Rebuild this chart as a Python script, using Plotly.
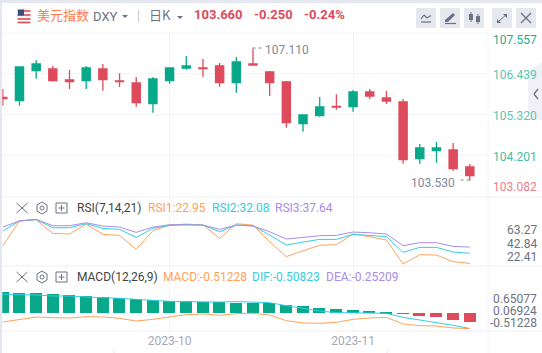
import plotly.graph_objects as go

W, H = 542, 353
idx = list(range(29))
opens = [105.78,105.694,106.507,106.553,106.255,106.236,106.553,106.228,106.174,105.612,106.236,106.58,106.58,106.635,106.182,106.689,106.472,106.201,105.07,105.287,105.542,105.531,105.93,105.767,105.658,104.121,104.338,104.357,103.896]
highs = [106.011,106.62,106.797,106.635,106.526,106.635,106.689,106.437,106.336,106.336,106.59,106.906,106.825,106.716,106.879,107.11,106.499,106.228,105.31,105.794,105.867,105.984,106.011,105.957,105.74,104.519,104.574,104.546,103.977]
lows = [105.558,105.558,106.29,106.209,106.011,106.011,105.965,106.065,105.531,105.368,106.155,106.534,106.344,106.073,105.911,106.643,105.821,104.961,104.853,105.26,105.45,105.395,105.74,105.604,103.985,103.985,104.012,103.795,103.53]
closes = [105.75,106.608,106.689,106.236,106.209,106.58,106.263,106.209,105.639,106.282,106.58,106.635,106.561,106.182,106.743,106.662,106.182,105.097,105.306,105.523,105.523,105.93,105.821,105.686,104.094,104.411,104.411,103.849,103.66]
rsi1 = [38.9,61.2,62.35,50.0,49.4,58.4,49.1,48.2,35.6,52.4,57.5,58.4,57.5,45.5,58.7,57.5,42.5,29.0,34.4,39.2,39.8,49.4,47.0,44.0,22.4,30.8,30.5,24.5,22.95]
rsi2 = [52.1,61.2,62.4,55.1,55.1,58.7,54.5,53.6,46.4,54.5,57.2,57.8,57.5,51.5,57.5,56.9,48.5,39.5,42.2,44.6,44.6,49.1,48.2,47.0,32.9,37.4,37.4,33.2,32.08]
rsi3 = [55.7,61.2,62.7,56.9,56.9,59.6,56.6,55.7,50.9,55.7,57.8,57.8,57.5,53.6,57.5,56.6,51.5,44.9,46.4,47.9,48.2,51.2,50.6,49.4,38.9,41.6,41.6,38.3,37.64]
hist = [1.29,1.25,1.25,1.19,1.13,1.07,1.00,0.94,0.88,0.82,0.76,0.74,0.70,0.68,0.66,0.66,0.64,0.51,0.45,0.33,0.27,0.21,0.14,0.04,-0.04,-0.16,-0.23,-0.41,-0.512]
dif = [0.605,0.605,0.584,0.551,0.551,0.518,0.508,0.475,0.442,0.399,0.377,0.366,0.355,0.355,0.366,0.355,0.334,0.236,0.149,0.062,0.008,0.008,0.008,-0.014,-0.145,-0.232,-0.297,-0.405,-0.508]
macd = [-0.297,-0.21,-0.134,-0.155,-0.166,-0.123,-0.134,-0.177,-0.264,-0.21,-0.123,-0.058,-0.036,-0.079,-0.025,-0.014,-0.069,-0.253,-0.329,-0.34,-0.308,-0.21,-0.166,-0.145,-0.362,-0.416,-0.427,-0.492,-0.512]
price_ticks = [107.557,106.439,105.32,104.201,103.082]
x_tick_pos = [10,21]
x_tick_text = ["2023-10","2023-11"]

GREEN, RED = "#08A88A", "#DD4B5C"
ORANGE, CYAN, PURPLE = "#FFA25B", "#35CDE0", "#A98CE6"
GRID = "#F3F4F8"
GRAY = "#6E7183"

def px(x): return x / W
def py(y): return 1 - y / H

fig = go.Figure()
fig.add_trace(go.Candlestick(x=idx, open=opens, high=highs, low=lows, close=closes,
    increasing=dict(line=dict(color=GREEN, width=1.3), fillcolor=GREEN),
    decreasing=dict(line=dict(color=RED, width=1.3), fillcolor=RED),
    whiskerwidth=0, xaxis="x", yaxis="y", showlegend=False))
for s, c in [(rsi1, ORANGE), (rsi2, CYAN), (rsi3, PURPLE)]:
    fig.add_trace(go.Scatter(x=idx, y=s, mode="lines", line=dict(color=c, width=1), xaxis="x2", yaxis="y2", showlegend=False))
fig.add_trace(go.Bar(x=idx, y=hist, marker=dict(color=[GREEN if v > 0 else RED for v in hist], line_width=0),
    width=0.72, xaxis="x3", yaxis="y3", showlegend=False))
fig.add_trace(go.Scatter(x=idx, y=dif, mode="lines", line=dict(color=CYAN, width=1), xaxis="x3", yaxis="y4", showlegend=False))
fig.add_trace(go.Scatter(x=idx, y=macd, mode="lines", line=dict(color=ORANGE, width=1), xaxis="x3", yaxis="y4", showlegend=False))

xr = [-0.03, 29.09]
dom = [px(2.3), px(488)]
common = dict(range=xr, domain=dom, showgrid=True, gridcolor=GRID, gridwidth=1, zeroline=False,
              tickvals=x_tick_pos, ticktext=["", ""], rangeslider=dict(visible=False), fixedrange=True, showline=False)
yc = dict(zeroline=False, showticklabels=False, ticks="", fixedrange=True, side="right")
fig.update_layout(
    width=W, height=H, margin=dict(l=0, r=0, t=0, b=0),
    paper_bgcolor="white", plot_bgcolor="rgba(0,0,0,0)",
    font=dict(family="Roboto, 'Noto Sans CJK SC', sans-serif", size=12, color=GRAY),
    showlegend=False, dragmode=False, bargap=0,
    xaxis=dict(**common, anchor="y"),
    xaxis2=dict(**common, anchor="y2"),
    xaxis3=dict(**{**common, "ticktext": x_tick_text, "tickfont": dict(size=12, color="#A6A8B5"), "ticks": ""}, anchor="y3", ticklabelstandoff=1),
    yaxis=dict(**yc, domain=[py(197), py(32)], range=[103.082, 107.557], tickvals=price_ticks, showgrid=True, gridcolor=GRID, anchor="x"),
    yaxis2=dict(**yc, domain=[py(266), py(197)], range=[20.6, 82.8], showgrid=False, anchor="x2"),
    yaxis3=dict(**yc, domain=[py(331), py(266)], range=[-1.089, 2.909], showgrid=False, anchor="x3"),
    yaxis4=dict(**yc, domain=[py(331), py(266)], range=[-0.59, 1.529], showgrid=False, overlaying="y3", anchor="x3"),
)

ann = []
def T(x, y, s, color=GRAY, size=12, anchor="left", bold=False, family=None):
    f = dict(size=size, color=color)
    if family: f["family"] = family
    if bold: s = f"<b>{s}</b>"
    ann.append(dict(x=px(x), y=py(y), xref="paper", yref="paper", text=s, showarrow=False,
                    xanchor=anchor, yanchor="middle", font=f, borderpad=0))

T(36, 15, "美元指数", "#FF7A4D", 13, family="'Noto Sans CJK SC'")
T(92, 16, "DXY", GRAY, 13)
T(148, 15, "日K", GRAY, 13, family="'Noto Sans CJK SC'")
T(193, 15, "103.660", RED, 13, bold=True)
T(253, 15, "-0.250", RED, 13, bold=True)
T(303, 15, "-0.24%", RED, 13, bold=True)
for y, s, c in [(40, "107.557", "#16AE92"), (75, "106.439", "#5CC6B2"), (116, "105.320", "#5CC6B2"), (157, "104.201", "#45BEA8"), (187, "103.082", "#E8808C")]:
    T(538, y, s, c, 12, "right")
T(264, 50, "107.110", "#85879A", 12)
T(456, 183, "103.530", "#85879A", 12, "right")
T(76, 208, "RSI(7,14,21)", "#444", 12)
T(147, 208, "RSI1:22.95", ORANGE, 12)
T(211, 208, "RSI2:32.08", CYAN, 12)
T(274, 208, "RSI3:37.64", PURPLE, 12)
for y, s in [(230, "63.27"), (244, "42.84"), (257, "22.41")]:
    T(538, y, s, GRAY, 12, "right")
T(76, 277, "MACD(12,26,9)", "#444", 12)
T(162, 277, "MACD:-0.51228", ORANGE, 12)
T(251, 277, "DIF:-0.50823", CYAN, 12)
T(325, 277, "DEA:-0.25209", PURPLE, 12)
for y, s in [(299, "0.65077"), (311, "0.06924"), (323, "-0.51228")]:
    T(538, y, s, GRAY, 12, "right")

shapes = []
def S(**k):
    k.setdefault("xref", "paper"); k.setdefault("yref", "paper"); k.setdefault("layer", "above")
    shapes.append(k)
def L(x0, y0, x1, y1, c=GRAY, w=1, dash=None):
    line = dict(color=c, width=w)
    if dash: line["dash"] = dash
    S(type="line", x0=px(x0), y0=py(y0), x1=px(x1), y1=py(y1), line=line)
def R(x0, y0, x1, y1, fill=None, c=None, w=1):
    S(type="rect", x0=px(x0), y0=py(y0), x1=px(x1), y1=py(y1), fillcolor=fill or "rgba(0,0,0,0)", line=dict(color=c or "rgba(0,0,0,0)", width=w))
def P(pts, fill=None, c=None, w=1):
    d = "M" + " L".join(f"{px(a):.5f},{py(b):.5f}" for a, b in pts) + " Z"
    S(type="path", path=d, fillcolor=fill or "rgba(0,0,0,0)", line=dict(color=c or "rgba(0,0,0,0)", width=w))

# page frame
R(0, 0, 542, 3, "#E4E7EF")
R(0, 0, 2, 353, "#E4E7EF")
# borders
L(2, 33, 488, 33, GRID); L(488, 33, 488, 353, GRID); L(2, 197, 542, 197, "#EEEFF4")
L(2, 266, 542, 266, "#EEEFF4"); L(2, 331, 542, 331, "#EEEFF4")
L(114, 349, 114, 353, "#E4E6EC"); L(387, 349, 387, 353, "#E4E6EC")
# side tab
P([(542, 62), (528, 72), (528, 120), (542, 120)], "#F0F0F5")
L(538, 89, 534, 94, GRAY, 1.3); L(534, 94, 538, 99, GRAY, 1.3)
# flag
S(type="circle", x0=px(16), y0=py(24), x1=px(32), y1=py(8), fillcolor="#F2F2F4", line=dict(width=0))
for y in (11, 15, 19, 22.5):
    L(17.5, y, 30.5, y, "#D8505C", 1.6)
R(18, 9.5, 24, 15.5, "#3E4A7C")
# carets
P([(122, 15), (128, 15), (125, 18)], GRAY)
P([(177, 16), (183, 16), (180, 19)], GRAY)
L(138.5, 10, 138.5, 22, "#C9CBD6", 1)
# toolbar
for x0 in (416, 440, 464, 492, 516):
    R(x0, 8, x0 + 20, 28, "#E6E8EF")
L(421, 22, 431, 22, GRAY, 1.2)
for a, b in [((421, 19), (424, 15)), ((424, 15), (427, 18)), ((427, 18), (431, 15.5))]:
    L(a[0], a[1], b[0], b[1], GRAY, 1.2)
P([(445, 20), (453, 13), (455, 15), (448, 22), (445, 22)], GRAY)
L(445, 23.5, 456, 23.5, GRAY, 1.2)
R(469, 14, 473, 20, GRAY); L(471, 12, 471, 22, GRAY, 1)
R(476, 16, 480, 22, GRAY); L(478, 14, 478, 24, GRAY, 1)
L(498, 22, 507, 14, GRAY, 1); P([(503, 14), (507, 14), (507, 18)], GRAY); P([(497, 19), (497, 23), (501, 23)], GRAY)
L(521, 13, 531, 23, GRAY, 1.2); L(531, 13, 521, 23, GRAY, 1.2)
# dotted leaders
L(252.7, 48, 262, 48, "#85879A", 1, "dot")
L(469.7, 180, 459, 180, "#85879A", 1, "dot")
# pane icons
for yc0 in (208, 277):
    L(16.5, yc0 - 5, 27.5, yc0 + 5, GRAY, 1); L(27.5, yc0 - 5, 16.5, yc0 + 5, GRAY, 1)
    P([(42, yc0 - 6), (47, yc0 - 3), (47, yc0 + 3), (42, yc0 + 6), (37, yc0 + 3), (37, yc0 - 3)], None, GRAY, 1)
    S(type="circle", x0=px(40), y0=py(yc0 + 2), x1=px(44), y1=py(yc0 - 2), line=dict(color=GRAY, width=1))
    R(56, yc0 - 5, 67, yc0 + 5, None, GRAY, 1)
    L(58.5, yc0, 64.5, yc0, GRAY, 1); L(61.5, yc0 - 3, 61.5, yc0 + 3, GRAY, 1)

fig.update_layout(annotations=ann, shapes=shapes)
fig.write_html("out.html", config=dict(displayModeBar=False),
               post_script="document.body.style.margin='0';document.documentElement.style.overflow='hidden';")
